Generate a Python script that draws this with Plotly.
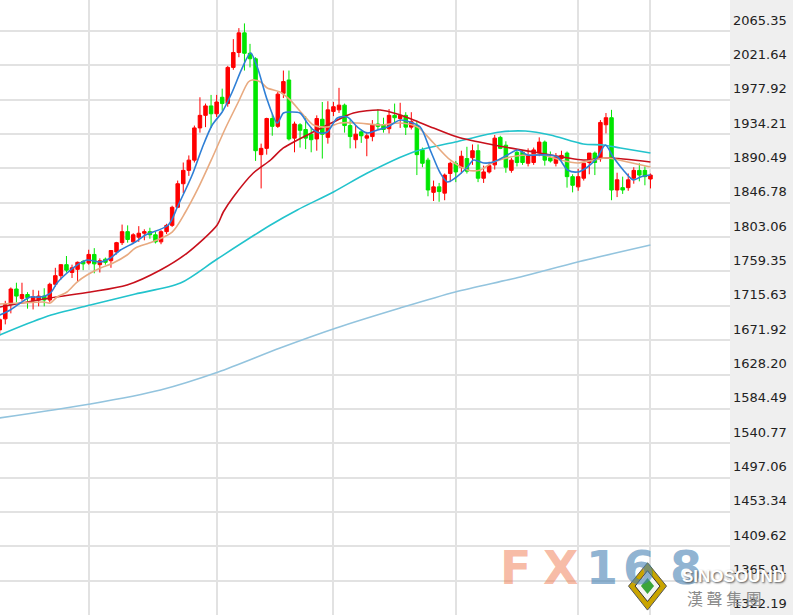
import plotly.graph_objects as go
import pandas as pd

# ---------------- data ----------------
dates = pd.bdate_range("2020-06-08", periods=118).strftime("%Y-%m-%d").tolist()

opens = [1685,1699,1717,1737,1725,1730,1722,1723,1728,1723,1743,1754,1768,1758,1762,1772,1770,1781,1768,1775,
         1773,1784,1796,1810,1797,1803,1808,1810,1806,1797,1810,1818,1841,1871,1888,1901,1942,1958,1970,1960,
         1981,1973,2019,2038,2063,2037,2030,1908,1916,1954,1944,1986,2003,1929,1946,1940,1934,1928,1953,1930,
         1963,1965,1971,1945,1927,1937,1929,1931,1947,1946,1941,1958,1954,1958,1943,1945,1914,1901,1860,1867,
         1859,1884,1897,1892,1903,1904,1913,1878,1886,1895,1930,1920,1888,1911,1911,1897,1898,1910,1924,1904,
         1897,1903,1910,1880,1867,1878,1898,1910,1904,1946,1955,1863,1866,1866,1878,1888,1888,1877]
highs = [1700,1722,1739,1745,1745,1733,1736,1735,1738,1745,1764,1768,1779,1768,1772,1774,1787,1789,1776,1777,
         1786,1797,1819,1818,1808,1817,1813,1815,1810,1812,1820,1843,1875,1898,1907,1945,1981,1973,1984,1984,
         1992,2021,2055,2069,2075,2049,2032,1922,1955,1960,1988,2015,2015,1950,1948,1957,1943,1958,1975,1976,
         1975,1993,1973,1952,1945,1940,1937,1952,1966,1955,1966,1973,1974,1962,1962,1951,1917,1904,1875,1872,
         1884,1899,1900,1913,1918,1921,1921,1894,1899,1933,1932,1925,1904,1913,1913,1916,1917,1930,1926,1912,
         1910,1913,1912,1883,1890,1897,1910,1912,1952,1961,1965,1885,1880,1884,1892,1897,1893,1884]
lows = [1678,1692,1706,1720,1722,1712,1711,1715,1715,1720,1740,1749,1758,1751,1746,1761,1768,1757,1758,1768,
        1764,1781,1793,1796,1795,1797,1799,1801,1795,1794,1807,1816,1840,1859,1881,1898,1936,1943,1942,1956,
        1964,1969,2016,2032,2015,2019,1900,1865,1908,1932,1942,1980,1926,1911,1917,1915,1911,1913,1903,1922,
        1957,1961,1936,1916,1916,1923,1906,1925,1940,1936,1935,1948,1942,1933,1940,1882,1892,1855,1849,1848,
        1850,1873,1873,1884,1884,1895,1873,1872,1884,1889,1915,1885,1885,1893,1895,1893,1895,1906,1894,1898,
        1893,1899,1866,1860,1862,1875,1883,1882,1899,1935,1850,1854,1858,1862,1871,1874,1869,1865]
closes = [1698,1717,1737,1728,1730,1726,1727,1728,1723,1743,1754,1768,1761,1764,1771,1769,1781,1769,1773,1771,
          1786,1796,1810,1800,1806,1808,1810,1806,1797,1810,1818,1841,1871,1888,1901,1942,1958,1970,1960,1975,
          1973,2019,2038,2063,2037,2030,1913,1916,1954,1944,1985,2001,1928,1947,1939,1929,1927,1954,1934,1965,
          1969,1971,1945,1931,1934,1932,1932,1946,1944,1940,1958,1955,1958,1943,1950,1908,1897,1863,1867,1861,
          1882,1897,1886,1906,1887,1913,1878,1886,1894,1929,1916,1892,1901,1898,1898,1907,1914,1924,1901,1900,
          1905,1907,1880,1869,1880,1897,1910,1898,1949,1955,1863,1876,1863,1876,1888,1882,1880,1882]

# moving-average lines, read at sample positions (candle index, price)
ma5_pos = [0,1.9,3.7,5.5,7.3,9.1,10.3,12.1,13.9,15.7,18.1,19.9,21.7,24.4,26.2,30.3,32.1,34.6,36.4,38.2,40.0,41.8,
           43.6,45.1,46.3,48.1,49.9,51.0,52.2,54.0,55.3,56.4,57.6,58.9,60.7,62.5,64.3,66.1,67.9,69.7,72.0,73.8,
           75.6,77.4,79.2,80.5,81.9,84.1,85.2,87.0,88.8,91.3,93.1,94.9,96.7,98.5,100.3,102.1,103.9,105.7,107.5,
           108.9,110.3,112.1,113.9,115.2,117.0]
ma5_val = [1703.9,1710.3,1719.2,1726.8,1726.8,1731.9,1744.6,1757.4,1767.5,1773.9,1771.4,1776.5,1786.6,1796.8,1805.7,
           1818.5,1843.9,1882.1,1916.5,1945.7,1962.3,1987.7,2018.3,2037.4,2019.5,1977.6,1948.3,1961.0,1962.3,1961.0,
           1948.3,1939.4,1935.5,1936.8,1954.6,1955.9,1943.2,1935.5,1939.4,1943.2,1952.1,1949.5,1943.2,1913.9,1884.6,
           1873.2,1878.3,1892.3,1901.2,1897.4,1898.6,1907.6,1913.9,1907.6,1907.6,1907.6,1905.0,1888.5,1885.9,1892.3,
           1905.0,1920.3,1905.0,1888.5,1875.7,1879.6,1882.1]
ma10_pos = [0,3.7,7.8,9.1,10.3,12.1,13.9,15.7,18.1,20.4,22.9,24.4,27.4,31.0,33.4,35.7,38.2,40.6,42.9,44.7,45.4,46.9,
            48.1,50.4,52.2,54.6,56.4,58.9,61.2,64.3,68.4,72.0,75.1,78.0,81.0,84.1,86.4,88.8,91.8,94.9,97.8,100.8,
            103.9,106.7,109.3,112.9,117.0]
ma10_val = [1717.9,1719.2,1720.5,1719.2,1726.8,1733.2,1745.9,1754.8,1763.7,1770.1,1780.3,1789.2,1796.8,1809.5,1835.0,
            1865.6,1903.7,1941.9,1975.0,2000.5,2003.0,2000.5,1992.8,1987.7,1977.6,1958.5,1945.7,1943.2,1948.3,1948.3,
            1945.7,1948.3,1943.2,1922.8,1901.2,1888.5,1888.5,1898.6,1905.0,1907.6,1907.6,1901.2,1897.4,1901.2,1903.7,
            1898.6,1892.3]
ma30_pos = [0,9.1,16.3,22.9,28.9,33.7,39.1,40.2,42.0,45.6,48.7,51.0,57.1,60.0,63.6,68.4,72.0,74.4,78.0,82.3,88.8,
            96.0,104.9,109.3,117.0]
ma30_val = [1714.1,1725.6,1733.2,1742.1,1761.2,1782.8,1818.5,1835.0,1854.1,1884.6,1901.2,1916.5,1939.4,1949.5,1961.0,
            1964.8,1958.5,1952.1,1941.9,1930.4,1920.3,1911.4,1901.2,1903.7,1898.6]
ma60_pos = [0,8.2,16.3,24.4,32.5,39.1,48.7,53.5,60.0,66.1,74.4,81.9,90.0,94.5,99.0,104.9,108.5,111.6,117.0]
ma60_val = [1678.5,1701.4,1716.7,1730.7,1744.6,1775.2,1818.5,1837.6,1860.5,1884.6,1911.4,1924.1,1936.8,1938.0,
            1933.0,1921.5,1920.3,1916.5,1910.1]
ma250_pos = [0,16.3,28.9,39.3,50.4,60.5,72.0,81.9,93.6,103.9,117.0]
ma250_val = [1572.9,1590.7,1608.5,1631.4,1661.9,1687.4,1712.8,1733.2,1752.3,1771.4,1793.0]

tick_labels = ["2065.35","2021.64","1977.92","1934.21","1890.49","1846.78","1803.06","1759.35","1715.63",
               "1671.92","1628.20","1584.49","1540.77","1497.06","1453.34","1409.62","1365.91","1322.19"]
month_end_idx = [16, 39, 60, 82, 104, 117]

# ---------------- figure ----------------
idx = list(range(len(closes)))
fig = go.Figure()

fig.add_trace(go.Candlestick(
    x=idx, open=opens, high=highs, low=lows, close=closes, text=dates,
    increasing=dict(line=dict(color="#ff0000", width=1), fillcolor="#ff0000"),
    decreasing=dict(line=dict(color="#00e600", width=1), fillcolor="#00e600"),
    whiskerwidth=0, showlegend=False))

line_specs = [
    (ma250_pos, ma250_val, "#93c4de"),
    (ma60_pos, ma60_val, "#22c3cc"),
    (ma30_pos, ma30_val, "#c8101c"),
    (ma10_pos, ma10_val, "#e8aa80"),
    (ma5_pos, ma5_val, "#2f7fd6"),
]
for xs, ys, col in line_specs:
    fig.add_trace(go.Scatter(x=xs, y=ys, mode="lines",
                             line=dict(color=col, width=1.6, shape="spline", smoothing=0.8),
                             showlegend=False, hoverinfo="skip"))

tick_vals = [float(t) for t in tick_labels]

annotations = []
for t, v in zip(tick_labels, tick_vals):
    annotations.append(dict(text=t, xref="paper", x=1, xanchor="left", xshift=1,
                            yref="y", y=v, yanchor="middle", yshift=11, showarrow=False,
                            font=dict(family="DejaVu Sans, Verdana, sans-serif", size=13, color="#222")))

# watermark
wm_chars = [("F", 0.706, "rgba(240,130,90,0.55)"), ("X", 0.768, "rgba(240,130,90,0.55)"),
            ("1", 0.824, "rgba(70,130,180,0.6)"), ("6", 0.876, "rgba(70,130,180,0.6)"),
            ("8", 0.940, "rgba(70,130,180,0.6)")]
for ch, xp, col in wm_chars:
    annotations.append(dict(text="<b>%s</b>" % ch, xref="paper", yref="paper", x=xp, y=0.077,
                            xanchor="center", yanchor="middle", showarrow=False,
                            font=dict(family="DejaVu Sans", size=46, color=col)))

shapes = [
    dict(type="path", xref="paper", yref="paper",
         path="M 0.887 0.085 L 0.913 0.047 L 0.887 0.008 L 0.861 0.047 Z",
         fillcolor="#c9a400", line=dict(color="#555", width=1)),
    dict(type="path", xref="paper", yref="paper",
         path="M 0.887 0.072 L 0.904 0.047 L 0.887 0.022 L 0.870 0.047 Z",
         fillcolor="#f4f4f4", line=dict(color="#333", width=1)),
    dict(type="path", xref="paper", yref="paper",
         path="M 0.887 0.060 L 0.896 0.047 L 0.887 0.034 L 0.878 0.047 Z",
         fillcolor="#3aa53a", line=dict(width=0)),
]

annotations.append(dict(text="<b>SINOSOUND</b>", xref="paper", yref="paper", x=1.005, y=0.063,
                        xanchor="center", yanchor="middle", showarrow=False,
                        font=dict(family="Liberation Sans", size=17, color="white",
                                  shadow="1px 1px 2px #555")))
annotations.append(dict(text="漢 聲 集 團", xref="paper", yref="paper", x=0.992, y=0.028,
                        xanchor="center", yanchor="middle", showarrow=False,
                        font=dict(family="Noto Sans CJK TC", size=16, color="#8a8a8a")))

fig.update_layout(
    width=793, height=615,
    margin=dict(l=0, r=63, t=0, b=0),
    paper_bgcolor="#efefef", plot_bgcolor="#ffffff",
    boxgap=0.1,
    annotations=annotations, shapes=shapes,
    showlegend=False,
    xaxis=dict(range=[0.05, 131.3], tickvals=month_end_idx, showticklabels=False,
               showgrid=True, gridcolor="#e2e2e2", gridwidth=1.5, zeroline=False,
               rangeslider=dict(visible=False), fixedrange=True),
    yaxis=dict(range=[1322.15, 2104.8], tickvals=tick_vals, showticklabels=False,
               showgrid=True, gridcolor="#e2e2e2", gridwidth=1.5, zeroline=False, side="right"),
)

fig.write_html("out.html", config={"displayModeBar": False},
               post_script="document.body.style.margin='0px';document.body.style.padding='0px';"
                           "document.body.style.overflow='hidden';")
